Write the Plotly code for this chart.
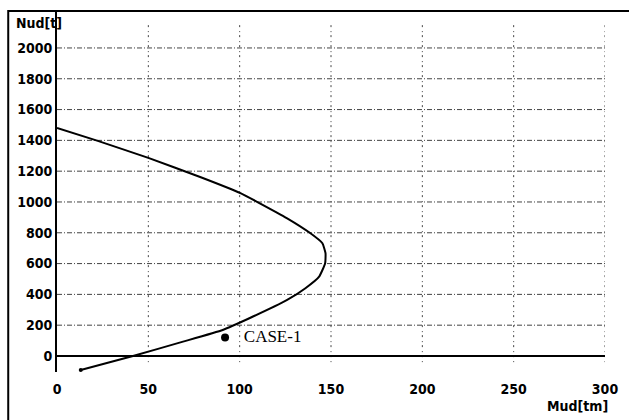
import plotly.graph_objects as go

# Interaction curve (Mud [tm], Nud [t])
curve_m = [13, 41.6, 69, 90.7, 105.3, 126, 136, 143.5, 146.8, 147, 145.3, 138, 126, 110, 100.7, 78, 50, 21.5, 0]
curve_n = [-91, 0, 93, 169, 245, 364, 440, 515, 602, 667, 732, 803, 894, 998, 1056, 1164, 1286, 1400, 1480]

case_m = [92]
case_n = [120]
case_label = "CASE-1"

x_ticks = [0, 50, 100, 150, 200, 250, 300]
y_ticks = [0, 200, 400, 600, 800, 1000, 1200, 1400, 1600, 1800, 2000]

x_title = "Mud[tm]"
y_title = "Nud[t]"

FONT = "Liberation Sans Narrow, DejaVu Sans Condensed, Arial Narrow, sans-serif"
TICKFONT = dict(family=FONT, size=14, color="black", weight="bold")

fig = go.Figure()

fig.add_trace(go.Scatter(
    x=curve_m, y=curve_n, mode="lines",
    line=dict(color="black", width=2, shape="spline", smoothing=0.4),
    hoverinfo="skip", showlegend=False,
))
fig.add_trace(go.Scatter(
    x=curve_m[:1], y=curve_n[:1], mode="markers",
    marker=dict(color="black", size=4),
    hoverinfo="skip", showlegend=False,
))
fig.add_trace(go.Scatter(
    x=case_m, y=case_n, mode="markers+text",
    marker=dict(color="black", size=8),
    text=["   " + case_label], textposition="middle right",
    textfont=dict(family="Liberation Serif, Times New Roman, serif", size=17, color="black"),
    hoverinfo="skip", showlegend=False,
))

shapes = []
# horizontal dash-dot grid
for v in y_ticks[1:]:
    shapes.append(dict(type="line", xref="x", yref="y", x0=x_ticks[0], x1=x_ticks[-1], y0=v, y1=v,
                       line=dict(color="#444444", width=1, dash="5px,2px,1px,2px"), layer="below"))
# vertical dotted grid
for v in x_ticks[1:]:
    shapes.append(dict(type="line", xref="x", yref="y", x0=v, x1=v, y0=-40, y1=2150,
                       line=dict(color="#444444", width=1, dash="1px,4px,2px,3px"), layer="below"))
# outer frame (top and left visible)
shapes.append(dict(type="rect", xref="paper", yref="paper", x0=-0.089, x1=1.06, y0=-0.2, y1=1.0,
                   line=dict(color="black", width=2), fillcolor="rgba(0,0,0,0)"))

fig.update_layout(
    width=629, height=420,
    margin=dict(l=57, r=22, t=11, b=48),
    paper_bgcolor="white", plot_bgcolor="white",
    shapes=shapes,
    font=dict(family=FONT, size=14, color="black"),
    xaxis=dict(
        range=[0, 300], tickvals=x_ticks, ticktext=[str(t) for t in x_ticks],
        showgrid=False, zeroline=False, showline=False,
        ticks="outside", ticklen=0, ticklabelstandoff=4,
        tickfont=TICKFONT,
    ),
    yaxis=dict(
        range=[-104, 2240], tickvals=y_ticks, ticktext=[str(t) for t in y_ticks],
        showgrid=False, zeroline=True, zerolinecolor="black", zerolinewidth=2,
        showline=True, linecolor="black", linewidth=2,
        ticks="", tickfont=TICKFONT,
    ),
    annotations=[
        dict(text=y_title, xref="paper", yref="paper", x=(14 - 57) / 550, y=(372 - 23) / 361,
             xanchor="left", yanchor="middle", showarrow=False, font=TICKFONT),
        dict(text=x_title, xref="paper", yref="paper", x=(612 - 57) / 550, y=(372 - 406) / 361,
             xanchor="right", yanchor="middle", showarrow=False, font=TICKFONT),
    ],
)

fig.write_html("out.html", config={"displayModeBar": False},
               post_script="document.body.style.margin='0';document.body.style.overflow='hidden';")
